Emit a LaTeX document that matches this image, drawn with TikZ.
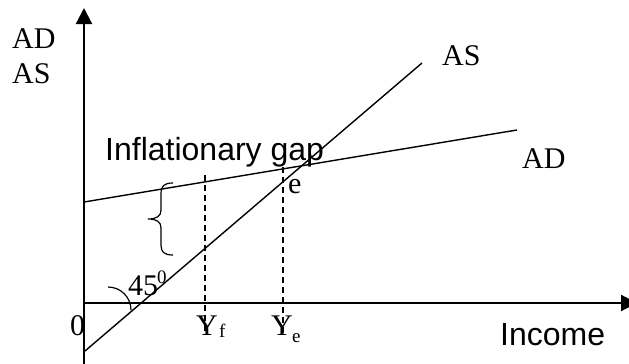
\documentclass[tikz,border=0pt]{standalone}
\usepackage{fontspec}
\setmainfont{Liberation Serif}
\newfontfamily\sansfam{Liberation Sans}
\usetikzlibrary{arrows.meta}
\tikzset{
  axis/.style={line width=2.2pt,-{Triangle[length=16pt,width=16pt]}},
  curve/.style={line width=1.4pt},
  guide/.style={line width=1.3pt,dash pattern=on 6pt off 4pt},
  lbl/.style={anchor=base west,inner sep=0pt,font=\fontsize{30}{34}\selectfont},
  sublbl/.style={anchor=base west,inner sep=0pt,font=\fontsize{19}{22}\selectfont},
  sanslbl/.style={anchor=base west,inner sep=0pt,font=\sansfam\fontsize{32}{36}\selectfont},
}
\begin{document}
\begin{tikzpicture}[x=1pt,y=-1pt]
\useasboundingbox (0,0) rectangle (629,364);
% coordinates
\coordinate (ybot) at (84,364);
\coordinate (ytop) at (84,8);
\coordinate (xl) at (84,303);
\coordinate (xr) at (637,303);
\coordinate (as1) at (85,351);
\coordinate (as2) at (422,63);
\coordinate (ad1) at (84,202);
\coordinate (ad2) at (517,130);
\coordinate (yft) at (205,175);
\coordinate (yfb) at (205,333);
\coordinate (yet) at (283,167);
\coordinate (yeb) at (283,333);
% axes
\draw[axis] (ybot) -- (ytop);
\draw[axis] (xl) -- (xr);
% curves
\draw[curve] (as1) -- (as2);
\draw[curve] (ad1) -- (ad2);
% dashed guides
\draw[guide] (yft) -- (yfb);
\draw[guide] (yet) -- (yeb);
% brace
\draw[curve,line width=1.2pt] (173,183) .. controls (164,183) and (161,186) .. (161,194) -- (161,210)
  .. controls (161,216) and (157,219) .. (148,219)
  .. controls (157,219) and (161,222) .. (161,228) -- (161,245)
  .. controls (161,252) and (164,255) .. (173,255);
% angle arc
\draw[curve,line width=1.2pt] (108,287) .. controls (120.7,287) and (131,297.3) .. (131,310);
% labels
\node[lbl] (lad) at (12,48) {AD};
\node[lbl] (las) at (12,83) {AS};
\node[lbl] (ras) at (442,65) {AS};
\node[lbl] (rad) at (522,168) {AD};
\node[lbl] (le) at (288,193) {e};
\node[lbl] (l45) at (128,295) {45};
\node[sublbl] (ldeg) at (157,283) {0};
\node[lbl] (lo) at (70,335) {0};
\node[lbl] (lyf) at (196,335) {Y};
\node[sublbl] (lf) at (219,337) {f};
\node[lbl] (lye) at (271,335) {Y};
\node[sublbl] (lee) at (292,342) {e};
\node[sanslbl] (lgap) at (105,160) {Inflationary gap};
\node[sanslbl] (linc) at (500,345) {Income};
\end{tikzpicture}
\end{document}
